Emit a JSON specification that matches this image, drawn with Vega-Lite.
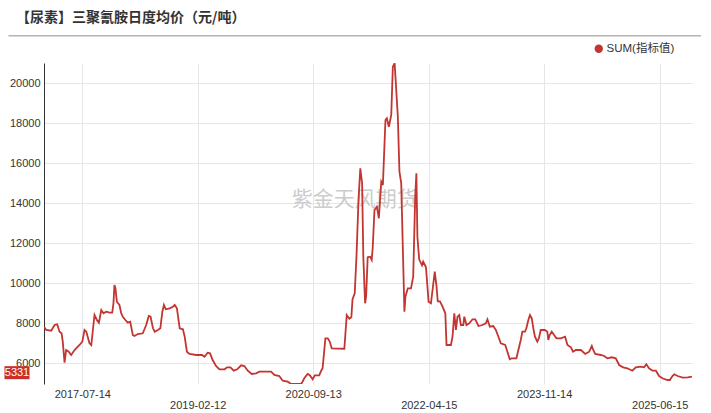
{
  "$schema": "https://vega.github.io/schema/vega-lite/v6.json",
  "width": 648,
  "height": 321,
  "autosize": {"type": "none"},
  "padding": {"left": 44, "top": 63, "right": 19, "bottom": 29},
  "background": "white",
  "config": {
    "view": {"stroke": null},
    "font": "Liberation Sans",
    "axis": {"labelFont": "Liberation Sans"}
  },
  "title": {
    "text": "【尿素】三聚氰胺日度均价（元/吨）",
    "anchor": "start",
    "frame": "group",
    "font": "Noto Sans CJK SC",
    "fontSize": 14,
    "fontWeight": "bold",
    "color": "#333333",
    "dx": -28,
    "offset": 10
  },
  "datasets": {
    "urea": [
      {"date": "2017-01-03", "value": 7830},
      {"date": "2017-01-14", "value": 7665},
      {"date": "2017-02-08", "value": 7630},
      {"date": "2017-02-25", "value": 7915},
      {"date": "2017-03-10", "value": 7950},
      {"date": "2017-03-22", "value": 7580},
      {"date": "2017-04-01", "value": 7500},
      {"date": "2017-04-07", "value": 7080},
      {"date": "2017-04-16", "value": 6030},
      {"date": "2017-04-24", "value": 6665},
      {"date": "2017-05-07", "value": 6580},
      {"date": "2017-05-19", "value": 6415},
      {"date": "2017-06-05", "value": 6665},
      {"date": "2017-06-30", "value": 6915},
      {"date": "2017-07-14", "value": 7080},
      {"date": "2017-07-25", "value": 7665},
      {"date": "2017-08-03", "value": 7580},
      {"date": "2017-08-19", "value": 7000},
      {"date": "2017-08-28", "value": 6915},
      {"date": "2017-09-05", "value": 7665},
      {"date": "2017-09-13", "value": 8415},
      {"date": "2017-09-25", "value": 8165},
      {"date": "2017-10-05", "value": 8030},
      {"date": "2017-10-17", "value": 8665},
      {"date": "2017-10-28", "value": 8500},
      {"date": "2017-11-11", "value": 8580},
      {"date": "2017-11-27", "value": 8530},
      {"date": "2017-12-11", "value": 8530},
      {"date": "2017-12-17", "value": 9000},
      {"date": "2017-12-22", "value": 9915},
      {"date": "2017-12-27", "value": 9750},
      {"date": "2018-01-03", "value": 9080},
      {"date": "2018-01-16", "value": 8915},
      {"date": "2018-01-25", "value": 8500},
      {"date": "2018-02-02", "value": 8330},
      {"date": "2018-02-15", "value": 8165},
      {"date": "2018-02-27", "value": 8030},
      {"date": "2018-03-11", "value": 8080},
      {"date": "2018-03-24", "value": 7415},
      {"date": "2018-04-01", "value": 7365},
      {"date": "2018-04-18", "value": 7465},
      {"date": "2018-05-13", "value": 7500},
      {"date": "2018-05-30", "value": 7915},
      {"date": "2018-06-12", "value": 8365},
      {"date": "2018-06-21", "value": 8330},
      {"date": "2018-07-03", "value": 7750},
      {"date": "2018-07-12", "value": 7580},
      {"date": "2018-07-28", "value": 7665},
      {"date": "2018-08-09", "value": 7750},
      {"date": "2018-08-19", "value": 8580},
      {"date": "2018-08-27", "value": 8915},
      {"date": "2018-09-05", "value": 8700},
      {"date": "2018-09-25", "value": 8750},
      {"date": "2018-10-11", "value": 8830},
      {"date": "2018-10-20", "value": 8915},
      {"date": "2018-10-31", "value": 8750},
      {"date": "2018-11-14", "value": 7750},
      {"date": "2018-11-30", "value": 7700},
      {"date": "2018-12-09", "value": 7330},
      {"date": "2018-12-20", "value": 6580},
      {"date": "2019-01-02", "value": 6465},
      {"date": "2019-02-05", "value": 6415},
      {"date": "2019-03-06", "value": 6415},
      {"date": "2019-03-18", "value": 6330},
      {"date": "2019-04-03", "value": 6530},
      {"date": "2019-04-15", "value": 6500},
      {"date": "2019-04-28", "value": 6165},
      {"date": "2019-05-15", "value": 5865},
      {"date": "2019-06-01", "value": 5700},
      {"date": "2019-06-26", "value": 5700},
      {"date": "2019-07-10", "value": 5800},
      {"date": "2019-07-26", "value": 5800},
      {"date": "2019-08-12", "value": 5630},
      {"date": "2019-08-29", "value": 5700},
      {"date": "2019-09-18", "value": 5900},
      {"date": "2019-10-04", "value": 5865},
      {"date": "2019-10-21", "value": 5630},
      {"date": "2019-11-10", "value": 5465},
      {"date": "2019-12-02", "value": 5500},
      {"date": "2019-12-18", "value": 5580},
      {"date": "2020-02-15", "value": 5580},
      {"date": "2020-03-02", "value": 5415},
      {"date": "2020-03-27", "value": 5365},
      {"date": "2020-04-13", "value": 5130},
      {"date": "2020-05-08", "value": 5080},
      {"date": "2020-05-25", "value": 4965},
      {"date": "2020-07-14", "value": 4965},
      {"date": "2020-07-20", "value": 5050},
      {"date": "2020-07-30", "value": 5250},
      {"date": "2020-08-16", "value": 5465},
      {"date": "2020-08-27", "value": 5400},
      {"date": "2020-09-10", "value": 5200},
      {"date": "2020-09-21", "value": 5400},
      {"date": "2020-10-13", "value": 5400},
      {"date": "2020-10-23", "value": 5630},
      {"date": "2020-10-30", "value": 5750},
      {"date": "2020-11-13", "value": 7250},
      {"date": "2020-11-25", "value": 7250},
      {"date": "2020-12-04", "value": 7100},
      {"date": "2020-12-15", "value": 6750},
      {"date": "2021-02-16", "value": 6730},
      {"date": "2021-02-28", "value": 8415},
      {"date": "2021-03-13", "value": 8230},
      {"date": "2021-03-23", "value": 8300},
      {"date": "2021-03-29", "value": 9200},
      {"date": "2021-04-09", "value": 9500},
      {"date": "2021-04-18", "value": 11400},
      {"date": "2021-04-28", "value": 14165},
      {"date": "2021-05-07", "value": 15750},
      {"date": "2021-05-16", "value": 15000},
      {"date": "2021-05-22", "value": 11330},
      {"date": "2021-05-31", "value": 9000},
      {"date": "2021-06-05", "value": 9330},
      {"date": "2021-06-13", "value": 11300},
      {"date": "2021-06-25", "value": 11330},
      {"date": "2021-07-03", "value": 11165},
      {"date": "2021-07-08", "value": 11750},
      {"date": "2021-07-17", "value": 13665},
      {"date": "2021-07-29", "value": 13830},
      {"date": "2021-08-08", "value": 13250},
      {"date": "2021-08-20", "value": 15080},
      {"date": "2021-08-28", "value": 14915},
      {"date": "2021-09-10", "value": 18165},
      {"date": "2021-09-17", "value": 18250},
      {"date": "2021-09-27", "value": 17830},
      {"date": "2021-10-09", "value": 18415},
      {"date": "2021-10-17", "value": 20830},
      {"date": "2021-10-26", "value": 21000},
      {"date": "2021-11-03", "value": 19665},
      {"date": "2021-11-11", "value": 18330},
      {"date": "2021-11-19", "value": 15580},
      {"date": "2021-11-28", "value": 15000},
      {"date": "2021-12-14", "value": 8580},
      {"date": "2021-12-19", "value": 9330},
      {"date": "2021-12-31", "value": 9750},
      {"date": "2022-01-16", "value": 9750},
      {"date": "2022-01-27", "value": 10330},
      {"date": "2022-02-06", "value": 14330},
      {"date": "2022-02-12", "value": 15500},
      {"date": "2022-02-17", "value": 12330},
      {"date": "2022-02-26", "value": 11200},
      {"date": "2022-03-12", "value": 10900},
      {"date": "2022-03-18", "value": 11080},
      {"date": "2022-04-01", "value": 10800},
      {"date": "2022-04-14", "value": 9080},
      {"date": "2022-04-26", "value": 9000},
      {"date": "2022-05-04", "value": 9665},
      {"date": "2022-05-15", "value": 10580},
      {"date": "2022-05-24", "value": 9830},
      {"date": "2022-05-30", "value": 9100},
      {"date": "2022-06-10", "value": 9100},
      {"date": "2022-06-23", "value": 8830},
      {"date": "2022-07-07", "value": 8500},
      {"date": "2022-07-13", "value": 6915},
      {"date": "2022-08-04", "value": 6915},
      {"date": "2022-08-12", "value": 7330},
      {"date": "2022-08-21", "value": 8500},
      {"date": "2022-08-29", "value": 7665},
      {"date": "2022-09-06", "value": 8330},
      {"date": "2022-09-15", "value": 8415},
      {"date": "2022-09-23", "value": 7915},
      {"date": "2022-10-05", "value": 7915},
      {"date": "2022-10-10", "value": 8330},
      {"date": "2022-10-21", "value": 7915},
      {"date": "2022-11-04", "value": 8000},
      {"date": "2022-11-20", "value": 8200},
      {"date": "2022-12-04", "value": 8200},
      {"date": "2022-12-20", "value": 7865},
      {"date": "2023-01-09", "value": 7915},
      {"date": "2023-01-26", "value": 8000},
      {"date": "2023-02-03", "value": 8200},
      {"date": "2023-02-15", "value": 7830},
      {"date": "2023-03-04", "value": 7865},
      {"date": "2023-03-17", "value": 7665},
      {"date": "2023-03-30", "value": 7330},
      {"date": "2023-04-11", "value": 7000},
      {"date": "2023-05-03", "value": 6915},
      {"date": "2023-05-14", "value": 6580},
      {"date": "2023-05-26", "value": 6200},
      {"date": "2023-06-05", "value": 6250},
      {"date": "2023-06-28", "value": 6250},
      {"date": "2023-07-08", "value": 6665},
      {"date": "2023-07-20", "value": 7165},
      {"date": "2023-07-28", "value": 7580},
      {"date": "2023-08-10", "value": 7580},
      {"date": "2023-08-17", "value": 7750},
      {"date": "2023-08-27", "value": 8165},
      {"date": "2023-09-04", "value": 8415},
      {"date": "2023-09-13", "value": 8250},
      {"date": "2023-09-21", "value": 7750},
      {"date": "2023-09-29", "value": 7330},
      {"date": "2023-10-11", "value": 7080},
      {"date": "2023-10-19", "value": 7250},
      {"date": "2023-10-28", "value": 7665},
      {"date": "2023-11-18", "value": 7665},
      {"date": "2023-11-30", "value": 7580},
      {"date": "2023-12-05", "value": 7165},
      {"date": "2023-12-12", "value": 7415},
      {"date": "2023-12-22", "value": 7580},
      {"date": "2024-01-03", "value": 7415},
      {"date": "2024-01-15", "value": 7250},
      {"date": "2024-02-06", "value": 7250},
      {"date": "2024-02-27", "value": 7330},
      {"date": "2024-03-10", "value": 6915},
      {"date": "2024-03-27", "value": 6800},
      {"date": "2024-04-07", "value": 6580},
      {"date": "2024-04-21", "value": 6665},
      {"date": "2024-05-16", "value": 6665},
      {"date": "2024-06-07", "value": 6465},
      {"date": "2024-06-27", "value": 6580},
      {"date": "2024-07-10", "value": 6865},
      {"date": "2024-07-17", "value": 6665},
      {"date": "2024-07-27", "value": 6465},
      {"date": "2024-08-24", "value": 6415},
      {"date": "2024-09-10", "value": 6365},
      {"date": "2024-09-26", "value": 6250},
      {"date": "2024-10-18", "value": 6300},
      {"date": "2024-11-07", "value": 6250},
      {"date": "2024-11-24", "value": 5915},
      {"date": "2024-12-14", "value": 5800},
      {"date": "2025-01-04", "value": 5750},
      {"date": "2025-01-29", "value": 5630},
      {"date": "2025-02-15", "value": 5800},
      {"date": "2025-03-12", "value": 5830},
      {"date": "2025-03-29", "value": 5800},
      {"date": "2025-04-09", "value": 5950},
      {"date": "2025-04-23", "value": 5750},
      {"date": "2025-05-10", "value": 5630},
      {"date": "2025-05-27", "value": 5630},
      {"date": "2025-06-12", "value": 5365},
      {"date": "2025-06-29", "value": 5250},
      {"date": "2025-07-24", "value": 5165},
      {"date": "2025-08-05", "value": 5165},
      {"date": "2025-08-18", "value": 5365},
      {"date": "2025-08-27", "value": 5450},
      {"date": "2025-09-13", "value": 5365},
      {"date": "2025-10-08", "value": 5280},
      {"date": "2025-11-02", "value": 5300},
      {"date": "2025-11-24", "value": 5331}
    ]
  },
  "layer": [
    {
      "data": {"values": [{}]},
      "mark": {"type": "text", "font": "Noto Sans CJK SC", "fontSize": 21, "color": "#cccccc", "align": "center", "baseline": "middle"},
      "encoding": {
        "x": {"datum": {"year": 2021, "month": 4, "date": 9, "utc": true}, "type": "temporal"},
        "y": {"datum": 14165, "type": "quantitative"},
        "text": {"value": "紫金天风期货"}
      }
    },
    {
      "data": {"values": [{}]},
      "mark": {"type": "rule", "color": "#b4b4b4", "strokeWidth": 1.5},
      "encoding": {
        "x": {"datum": {"year": 2016, "month": 7, "date": 9, "utc": true}, "type": "temporal"},
        "x2": {"datum": {"year": 2026, "month": 1, "date": 8, "utc": true}},
        "y": {"datum": 22380, "type": "quantitative"}
      }
    },
    {
      "data": {"name": "urea"},
      "mark": {"type": "line", "strokeWidth": 1.8, "clip": true},
      "encoding": {
        "x": {
          "field": "date",
          "type": "temporal",
          "scale": {"type": "utc", "domain": [{"year": 2017, "month": 1, "date": 3, "utc": true}, {"year": 2025, "month": 11, "date": 24, "utc": true}]},
          "axis": {
            "title": null,
            "values": [
              {"year": 2017, "month": 7, "date": 14, "utc": true},
              {"year": 2019, "month": 2, "date": 12, "utc": true},
              {"year": 2020, "month": 9, "date": 13, "utc": true},
              {"year": 2022, "month": 4, "date": 15, "utc": true},
              {"year": 2023, "month": 11, "date": 14, "utc": true},
              {"year": 2025, "month": 6, "date": 15, "utc": true}
            ],
            "labelExpr": "indexof(['2019-02-12','2022-04-15','2025-06-15'], utcFormat(datum.value, '%Y-%m-%d')) >= 0 ? ['', utcFormat(datum.value, '%Y-%m-%d')] : utcFormat(datum.value, '%Y-%m-%d')",
            "labelLineHeight": 11,
            "labelBaseline": "top",
            "labelPadding": 4,
            "labelFontSize": 11,
            "labelColor": "#333333",
            "labelFlush": false,
            "labelOverlap": false,
            "domain": false,
            "ticks": false,
            "grid": true,
            "gridColor": "#e6e6e6",
            "gridWidth": 1
          }
        },
        "y": {
          "field": "value",
          "type": "quantitative",
          "scale": {"domain": [4965, 21015], "nice": false, "zero": false},
          "axis": {
            "title": null,
            "values": [6000, 8000, 10000, 12000, 14000, 16000, 18000, 20000],
            "format": "d",
            "labelFontSize": 11,
            "labelColor": "#333333",
            "labelPadding": 4,
            "ticks": false,
            "domain": true,
            "domainColor": "#333333",
            "domainWidth": 1,
            "grid": true,
            "gridColor": "#e6e6e6",
            "gridWidth": 1
          }
        },
        "color": {
          "datum": "SUM(指标值)",
          "type": "nominal",
          "scale": {"range": ["#c23531"]},
          "legend": {
            "title": null,
            "orient": "none",
            "legendX": 549,
            "legendY": -20,
            "symbolType": "circle",
            "symbolSize": 70,
            "labelFont": "Liberation Sans, Noto Sans CJK SC",
            "labelFontSize": 11.5,
            "labelColor": "#333333",
            "labelOffset": 2,
            "encode": {"symbols": {"update": {"fill": {"value": "#c23531"}, "stroke": {"value": "#c23531"}, "strokeWidth": {"value": 0}}}}
          }
        }
      }
    },
    {
      "data": {"name": "urea"},
      "transform": [
        {"window": [{"op": "row_number", "as": "rn"}], "sort": [{"field": "date", "order": "descending"}]},
        {"filter": "datum.rn == 1"}
      ],
      "mark": {"type": "point", "shape": "M-1,-0.52V0.52H1V-0.52Z", "filled": true, "color": "#c9302c", "opacity": 1, "size": 625, "strokeWidth": 0, "xOffset": -27, "yOffset": -4},
      "encoding": {
        "x": {"datum": {"year": 2017, "month": 1, "date": 3, "utc": true}, "type": "temporal"},
        "y": {"field": "value", "type": "quantitative"}
      }
    },
    {
      "data": {"name": "urea"},
      "transform": [
        {"window": [{"op": "row_number", "as": "rn"}], "sort": [{"field": "date", "order": "descending"}]},
        {"filter": "datum.rn == 1"}
      ],
      "mark": {"type": "text", "color": "white", "fontSize": 11, "font": "Liberation Sans", "align": "center", "baseline": "middle", "xOffset": -27, "yOffset": -4},
      "encoding": {
        "x": {"datum": {"year": 2017, "month": 1, "date": 3, "utc": true}, "type": "temporal"},
        "y": {"field": "value", "type": "quantitative"},
        "text": {"field": "value", "type": "quantitative", "format": "d"}
      }
    }
  ]
}
